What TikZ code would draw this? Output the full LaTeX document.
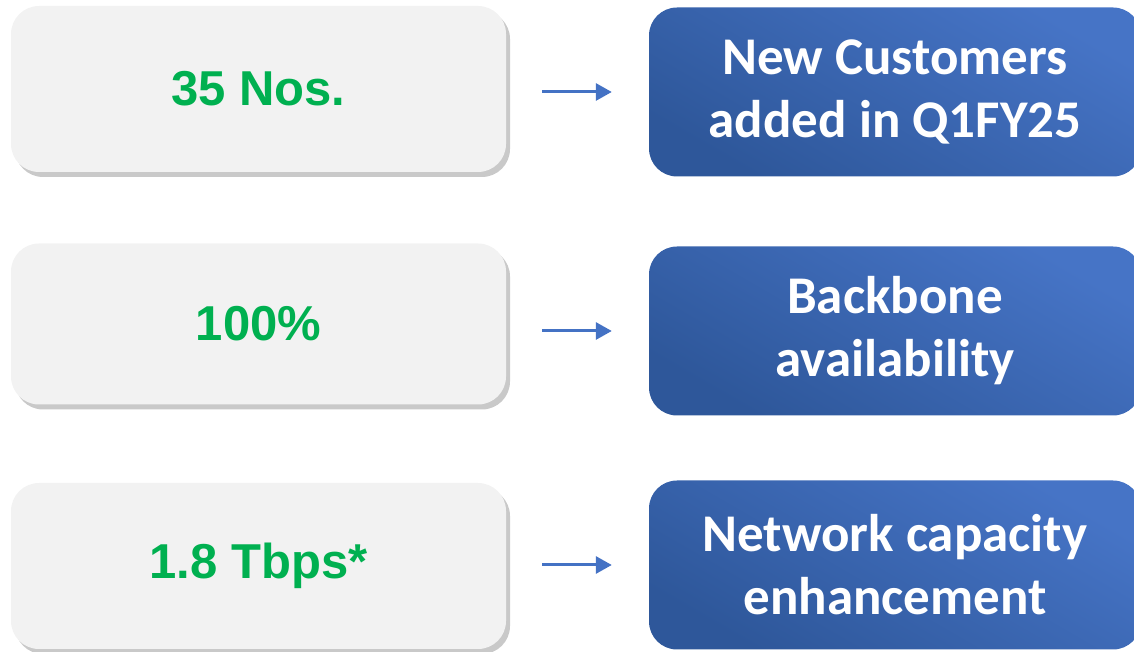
\documentclass[tikz,border=0pt]{standalone}
\usepackage{fontspec}
\usetikzlibrary{arrows.meta, shadows, positioning}
\newfontfamily\numfont{Liberation Sans}
\newfontfamily\descfont{Carlito}
\definecolor{numgreen}{HTML}{00B050}
\definecolor{boxgray}{HTML}{F2F2F2}
\definecolor{bluelight}{HTML}{4674C6}
\definecolor{bluedark}{HTML}{2E579A}
\definecolor{linkblue}{HTML}{4472C4}

\begin{document}
\begin{tikzpicture}[x=1pt, y=1pt,
        numbox/.style={rectangle, rounded corners=28pt, fill=boxgray,
            minimum width=495pt, minimum height=166pt,
            drop shadow={shadow xshift=4pt, shadow yshift=-5pt, opacity=0.3, fill=black!70},
            text=numgreen, font=\numfont\bfseries\fontsize{49}{58}\selectfont},
        descbox/.style={rectangle, rounded corners=28pt, shade, shading=axis,
            top color=bluelight, bottom color=bluedark, shading angle=-30,
            minimum width=492pt, minimum height=169pt, align=center,
            text=white, font=\descfont\bfseries\fontsize{53}{63}\selectfont},
        link/.style={draw=linkblue, line width=3pt,
            -{Triangle[length=16pt, width=17pt]},
            shorten <=36pt, shorten >=37pt}]
            \useasboundingbox (0,0) rectangle (1134,652);
            \draw (258.5,563) node[numbox] (num1) {35 Nos.};
            \draw (258.5,328) node[numbox, minimum height=161pt] (num2) {100\%};
            \draw (258.5,86) node[numbox] (num3) {1.8 Tbps*};
            \draw (895,560) node[descbox] (desc1) {New Customers\\added in Q1FY25};
            \draw (895,321) node[descbox] (desc2) {Backbone\\availability};
            \draw (895,87) node[descbox] (desc3) {Network capacity\\enhancement};
            \path
            (num1.east |- desc1.west) edge [link] (desc1.west)
            (num2.east |- desc2.west) edge [link] (desc2.west)
            (num3.east |- desc3.west) edge [link] (desc3.west);
        \end{tikzpicture}
\end{document}
